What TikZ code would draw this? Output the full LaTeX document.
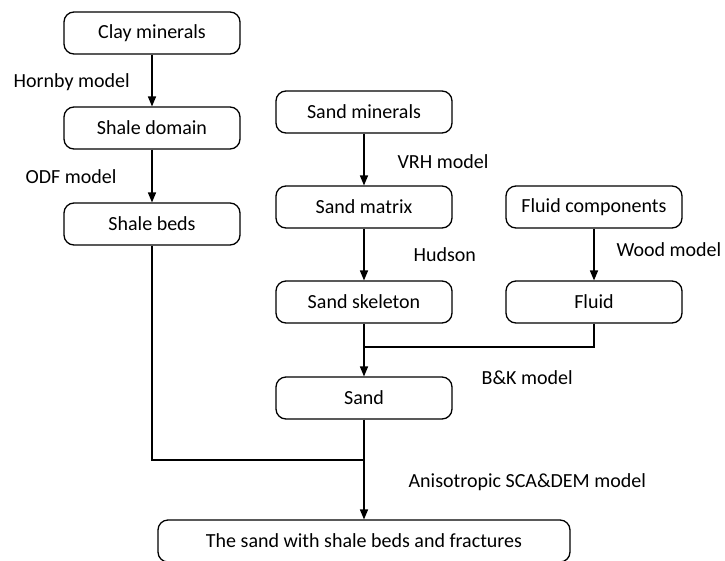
\documentclass[tikz,border=0pt]{standalone}
\usepackage{fontspec}
\setmainfont{Carlito}
\usetikzlibrary{arrows}
\tikzset{
  stepbox/.style={draw, rounded corners=10pt, minimum width=176pt, minimum height=42pt,
    inner sep=0pt, font=\fontsize{20}{24}\selectfont},
  modellabel/.style={anchor=west, inner sep=0pt, font=\fontsize{20}{24}\selectfont}
}

\begin{document}
\begin{tikzpicture} [>=triangle 45, x=1pt, y=-1pt, line width=1.3pt]
\useasboundingbox (0,0) rectangle (725,560);
% shale branch
\node[stepbox] (clay) at (152,33) {Clay minerals};
\node[stepbox] (shaledomain) at (152,128) {Shale domain};
\node[stepbox] (shalebeds) at (152,224) {Shale beds};
% sand branch
\node[stepbox] (sandmin) at (364,112) {Sand minerals};
\node[stepbox] (sandmatrix) at (364,207) {Sand matrix};
\node[stepbox] (skeleton) at (364,302) {Sand skeleton};
% fluid branch
\node[stepbox] (fluidcomp) at (594,207) {Fluid components};
\node[stepbox] (fluid) at (594,302) {Fluid};
\node[stepbox] (sand) at (364,398) {Sand};
\node[stepbox, minimum width=412pt] (final) at (364,541) {The sand with shale beds and fractures};
% model labels
\node[modellabel] (hornby) at (13,82) {Hornby model};
\node[modellabel] (odf) at (25,177) {ODF model};
\node[modellabel] (vrh) at (397,162) {VRH model};
\node[modellabel] (hudson) at (413,255) {Hudson};
\node[modellabel] (wood) at (616,250) {Wood model};
\node[modellabel] (bk) at (481,378) {B\&K model};
\node[modellabel] (sca) at (408,482) {Anisotropic SCA\&DEM model};
\coordinate (join1) at (364,347);
\coordinate (join2) at (364,460);
\draw[->] (clay) -- (shaledomain);
\draw[->] (shaledomain) -- (shalebeds);
\draw[->] (sandmin) -- (sandmatrix);
\draw[->] (sandmatrix) -- (skeleton);
\draw[->] (fluidcomp) -- (fluid);
\draw (skeleton) -- (join1);
\draw (fluid) |- (join1);
\draw[->] (join1) -- (sand);
\draw (sand) -- (join2);
\draw (shalebeds) |- (join2);
\draw[->] (join2) -- (final);
\end{tikzpicture}
\end{document}
